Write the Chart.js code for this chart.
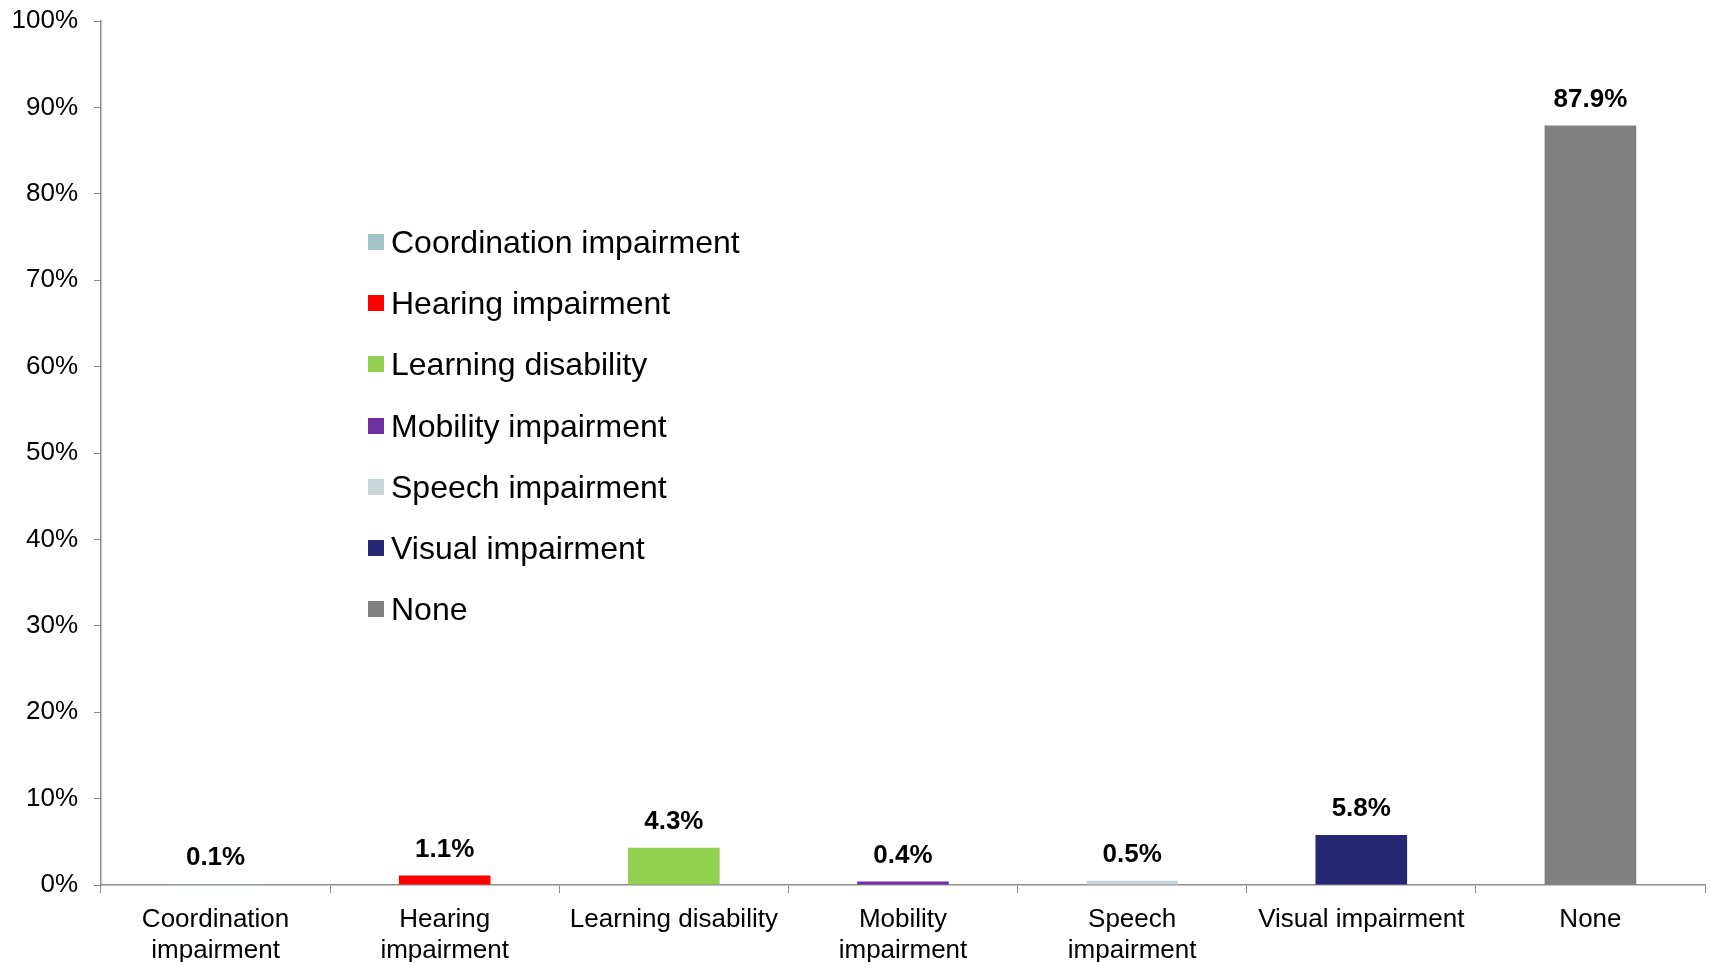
<!DOCTYPE html>
<html>
<head>
<meta charset="utf-8">
<script src="https://cdn.jsdelivr.net/npm/chart.js@4"></script>
<style>
  html, body { margin: 0; padding: 0; background: #fff; }
  #wrap { position: relative; width: 1710px; height: 962px; }
  #legend {
    position: absolute; left: 368px; top: 211px;
    font-family: "Liberation Sans", Arial, sans-serif; font-size: 32px; color: #000;
  }
  .item { display: flex; align-items: center; height: 61.3px; line-height: 1; }
  .box { width: 16px; height: 16px; margin-right: 7px; }
</style>
</head>
<body>
<div id="wrap">
  <canvas id="barChart" width="1710" height="962"></canvas>
  <div id="legend"></div>
</div>
<script>
const categories = [
  "Coordination impairment",
  "Hearing impairment",
  "Learning disability",
  "Mobility impairment",
  "Speech impairment",
  "Visual impairment",
  "None",
];
// rótulos do eixo x (quebrados em duas linhas)
const tickLabels = [
  ["Coordination", "impairment"],
  ["Hearing", "impairment"],
  "Learning disability",
  ["Mobility", "impairment"],
  ["Speech", "impairment"],
  "Visual impairment",
  "None",
];
const percentages = [0.1, 1.1, 4.3, 0.4, 0.5, 5.8, 87.9];
const barColors = ["#a0c4c8", "#ff0000", "#92d050", "#7030a0", "#c6d6d9", "#262874", "#808080"];

const fontFamily = '"Liberation Sans", Arial, sans-serif';

// valores em cima de cada barra
const valueLabels = {
  id: "valueLabels",
  afterDatasetsDraw(chart) {
    const c = chart.ctx;
    const meta = chart.getDatasetMeta(0);
    c.save();
    c.font = "bold 26px " + fontFamily;
    c.fillStyle = "#000";
    c.textAlign = "center";
    c.textBaseline = "middle";
    meta.data.forEach((bar, i) => {
      c.fillText(percentages[i].toFixed(1) + "%", bar.x, bar.y - 26);
    });
    c.restore();
  },
};

let ctx = document.getElementById("barChart");

let barChart = new Chart(ctx, {
  type: "bar",
  data: {
    labels: tickLabels,
    datasets: [
      {
        label: "Disability",
        data: percentages,
        backgroundColor: barColors,
        categoryPercentage: 1,
        barPercentage: 0.4,
      },
    ],
  },
  options: {
    responsive: false,
    animation: false,
    layout: { padding: { top: 0, right: 5, left: 0, bottom: 0 } },
    plugins: {
      legend: { display: false },
      tooltip: { enabled: false },
    },
    scales: {
      x: {
        grid: {
          drawOnChartArea: false,
          tickLength: 8,
          color: "#8c8c8c",
          offset: true,
        },
        border: { color: "#8c8c8c", width: 1.5 },
        ticks: {
          color: "#000",
          font: { family: fontFamily, size: 26, lineHeight: 1.2 },
          padding: 11,
          maxRotation: 0,
          autoSkip: false,
        },
        afterFit(scale) {
          scale.height = 77;
        },
      },
      y: {
        min: 0,
        max: 100,
        grid: {
          drawOnChartArea: false,
          tickLength: 7,
          color: "#8c8c8c",
        },
        border: { color: "#8c8c8c", width: 1.5 },
        ticks: {
          stepSize: 10,
          color: "#000",
          font: { family: fontFamily, size: 26 },
          padding: 16,
          callback: (v) => v + "%",
        },
        afterFit(scale) {
          scale.width = 101;
          scale.paddingTop = 21;
        },
      },
    },
  },
  plugins: [valueLabels],
});

// legenda em html, uma linha por categoria
let legend = document.getElementById("legend");
categories.forEach((name, i) => {
  let item = document.createElement("div");
  item.className = "item";
  item.innerHTML = '<span class="box" style="background:' + barColors[i] + '"></span>' + name;
  legend.appendChild(item);
});
</script>
</body>
</html>
